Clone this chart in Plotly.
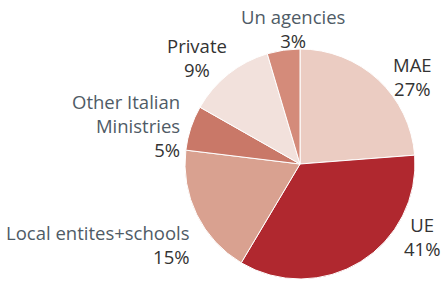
import plotly.graph_objects as go

categories = ["MAE", "UE", "Local entites+schools", "Other Italian Ministries", "Private", "Un agencies"]
slice_values = [23.8, 34.8, 18.4, 6.3, 12.2, 4.6]
label_percents = ["27%", "41%", "15%", "5%", "9%", "3%"]
label_names = ["MAE", "UE", "Local entites+schools", "Other Italian<br>Ministries", "Private", "Un agencies"]

colors = ["#EBCCC2", "#B0282F", "#D9A190", "#C97868", "#F2E1DC", "#D48B7A"]
name_colors = ["#333333", "#333333", "#4F5B66", "#4F5B66", "#333333", "#4F5B66"]

W, H = 441, 282

# pie geometry on screen
CX, CY, R = 300, 164, 115
L = CX - R
T = CY - R
RM = W - (CX + R)
BM = H - (CY + R)

# label placement (screen px): x, y(center), anchor, alignment
label_pos = [
    (412, 76, "center", "center"),
    (422, 236, "center", "center"),
    (192, 244, "right", "right"),
    (182, 126, "right", "right"),
    (197, 57, "center", "center"),
    (293, 28, "center", "center"),
]

fig = go.Figure(go.Pie(
    labels=categories,
    values=slice_values,
    sort=False,
    direction="clockwise",
    rotation=0,
    textinfo="none",
    hoverinfo="label+percent",
    marker=dict(colors=colors, line=dict(color="white", width=1)),
    showlegend=False,
))

pw = W - L - RM
ph = H - T - BM
FONT = "Open Sans"
for name, pct, nc, (x, y, xa, al) in zip(label_names, label_percents, name_colors, label_pos):
    fig.add_annotation(
        x=(x - L) / pw, y=(H - BM - y) / ph, xref="paper", yref="paper",
        xanchor=xa, yanchor="middle", align=al, showarrow=False,
        text=f'<span style="color:{nc}">{name}</span><br>{pct}',
        font=dict(family=FONT, size=18.5, color="#333333"),
    )

fig.update_layout(
    width=W, height=H,
    margin=dict(l=L, r=RM, t=T, b=BM, autoexpand=False),
    paper_bgcolor="white", plot_bgcolor="white",
)
fig.write_html("out.html", config={"displayModeBar": False},
               post_script="document.body.style.margin='0';")
